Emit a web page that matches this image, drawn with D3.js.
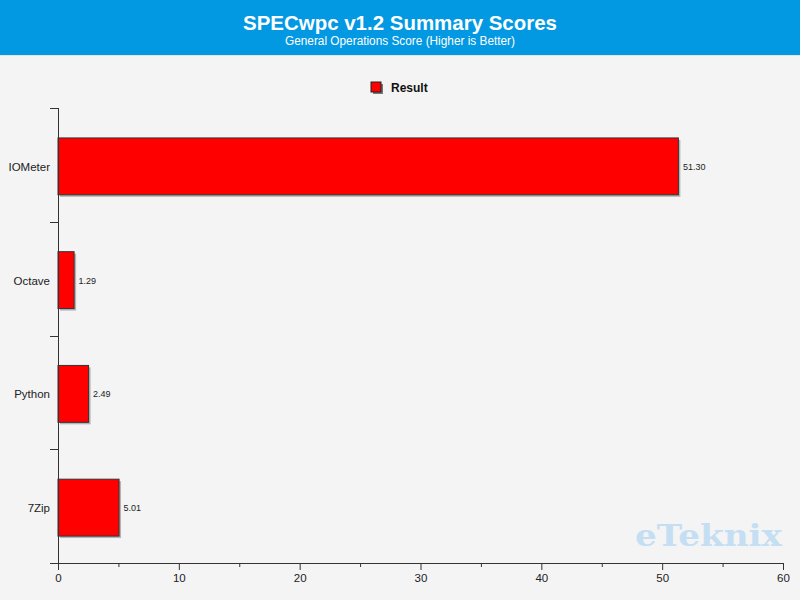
<!DOCTYPE html>
<html>
<head>
<meta charset="utf-8">
<script src="https://cdn.jsdelivr.net/npm/d3@7"></script>
<style>
body{margin:0;background:#f4f4f4;}
svg{display:block;font-family:Tahoma,"Liberation Sans",Arial,sans-serif;}
</style>
</head>
<body>
<div id="chart"></div>
<script>
var categories = ["IOMeter","Octave","Python","7Zip"];
var resultValues = [51.30, 1.29, 2.49, 5.01];
var valueLabels = ["51.30","1.29","2.49","5.01"];
var xTicks = [0,10,20,30,40,50,60];
var xMinorTicks = [5,15,25,35,45,55];

var W = 800, H = 600;
var margin = {top:108, right:17, bottom:37, left:58};
var width = W - margin.left - margin.right,
    height = H - margin.top - margin.bottom;

var svg = d3.select("#chart").append("svg").attr("width",W).attr("height",H);

svg.append("rect").attr("width",W).attr("height",H).attr("fill","#f4f4f4");
svg.append("rect").attr("width",W).attr("height",55).attr("fill","#0398e2");
svg.append("line").attr("x1",0).attr("x2",W).attr("y1",55.5).attr("y2",55.5).attr("stroke","#e4e4e4");

svg.append("text").attr("x",400).attr("y",30).attr("text-anchor","middle")
  .attr("fill","#fff").attr("font-size",21).attr("font-weight","bold")
  .attr("textLength",314).attr("lengthAdjust","spacingAndGlyphs")
  .text("SPECwpc v1.2 Summary Scores");
svg.append("text").attr("x",400).attr("y",45).attr("text-anchor","middle")
  .attr("fill","#fff").attr("font-size",12)
  .attr("textLength",230).attr("lengthAdjust","spacingAndGlyphs")
  .text("General Operations Score (Higher is Better)");

// legend
var leg = svg.append("g").attr("transform","translate(371,82)");
leg.append("rect").attr("x",2).attr("y",2).attr("width",10).attr("height",10).attr("fill","#777");
leg.append("rect").attr("width",10).attr("height",10).attr("fill","#ff0000").attr("stroke","#222").attr("stroke-width",1);
leg.append("text").attr("x",20).attr("y",9.5).attr("font-size",12).attr("font-weight","bold").attr("fill","#111").text("Result");

// watermark
svg.append("text").attr("x",635).attr("y",546)
  .attr("font-family","'DejaVu Serif',serif").attr("font-weight","bold").attr("font-size",29)
  .attr("textLength",147).attr("lengthAdjust","spacingAndGlyphs")
  .attr("fill","#c4def3").text("eTeknix");

var g = svg.append("g").attr("transform","translate("+margin.left+","+margin.top+")");

var x = d3.scaleLinear().domain([0,60]).range([0,width]);
var y = d3.scaleBand().domain(categories).range([0,height]).paddingInner(0).paddingOuter(0);

var data = categories.map(function(c,i){ return {label:c, value:resultValues[i], text:valueLabels[i]}; });
var barH = y.bandwidth()*0.5;
var barOff = (y.bandwidth()-barH)/2+1.5;

// shadows
g.selectAll(".shadow").data(data).enter().append("rect")
  .attr("x",x(0)+2).attr("y",function(d){ return y(d.label)+barOff+2; })
  .attr("width",function(d){ return x(d.value)+0.5; }).attr("height",barH)
  .attr("fill","#999").attr("opacity",0.7);

g.selectAll(".bar").data(data).enter().append("rect")
  .attr("x",x(0)).attr("y",function(d){ return y(d.label)+barOff; })
  .attr("width",function(d){ return x(d.value)+0.5; }).attr("height",barH)
  .attr("fill","#ff0000").attr("stroke","#333").attr("stroke-width",1);

g.selectAll(".vlab").data(data).enter().append("text")
  .attr("x",function(d){ return x(d.value)+5; })
  .attr("y",function(d){ return y(d.label)+y.bandwidth()/2+5; })
  .attr("font-size",9).attr("fill","#222").text(function(d){ return d.text; });

// y axis
var yAxis = g.append("g");
yAxis.append("line").attr("x1",0.5).attr("x2",0.5).attr("y1",0).attr("y2",height+6).attr("stroke","#333");
yAxis.selectAll(".yt").data(categories).enter().append("line")
  .attr("x1",-8).attr("x2",0).attr("y1",function(d){ return Math.round(y(d))+0.5; })
  .attr("y2",function(d){ return Math.round(y(d))+0.5; }).attr("stroke","#333");
yAxis.selectAll(".yl").data(categories).enter().append("text")
  .attr("x",-8).attr("y",function(d){ return y(d)+y.bandwidth()/2+6; })
  .attr("text-anchor","end").attr("font-size",11.5).attr("fill","#222").text(function(d){ return d; });

// x axis
var xAxisG = g.append("g").attr("transform","translate(0,"+height+")");
xAxisG.call(d3.axisBottom(x).tickValues(xTicks).tickSize(7).tickPadding(4).tickFormat(d3.format("d")));
xAxisG.select(".domain").remove();
xAxisG.append("line").attr("x1",-8).attr("x2",width).attr("y1",0.5).attr("y2",0.5).attr("stroke","#333");
xAxisG.selectAll(".tick line").attr("stroke","#333");
xAxisG.selectAll(".tick text").attr("font-size",11.5).attr("fill","#222").attr("font-family",null);
xAxisG.selectAll(".minor").data(xMinorTicks).enter().append("line")
  .attr("x1",function(d){ return x(d)+0.5; }).attr("x2",function(d){ return x(d)+0.5; })
  .attr("y1",0).attr("y2",4).attr("stroke","#333");
</script>
</body>
</html>
